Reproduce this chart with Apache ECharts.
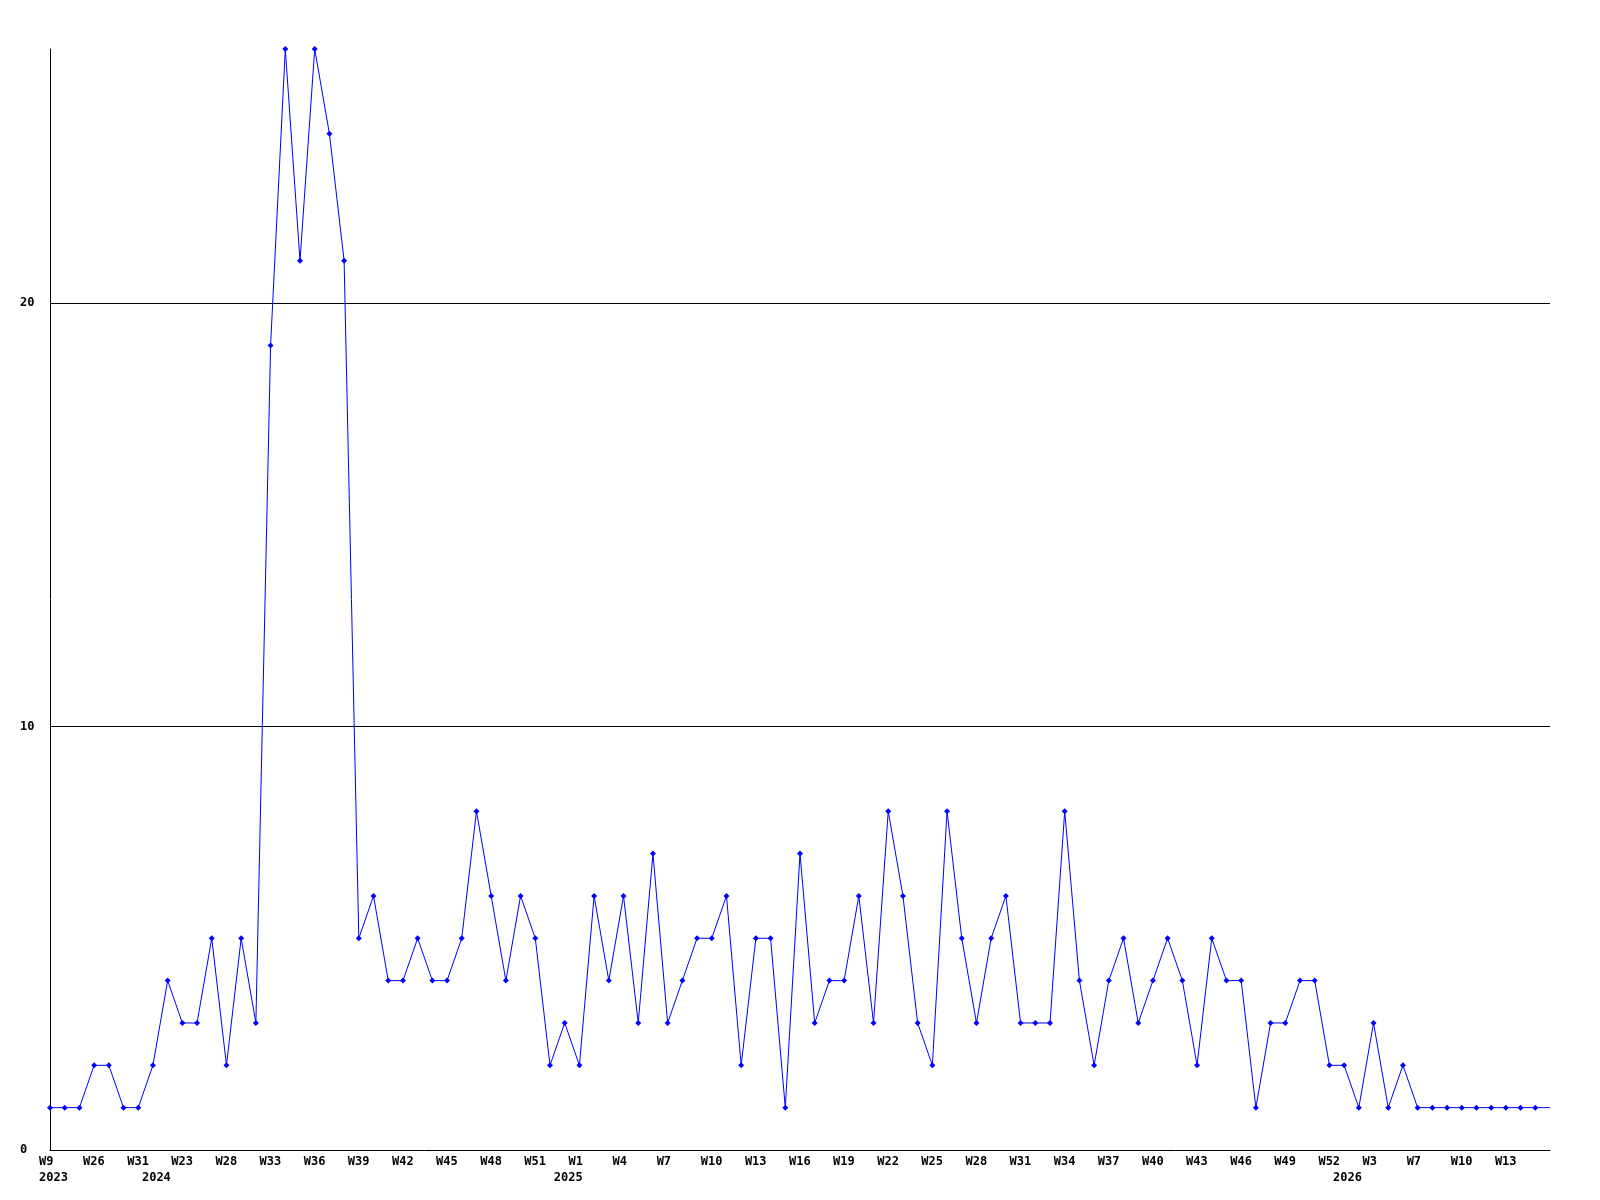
<!DOCTYPE html>
<html>
<head>
<meta charset="utf-8">
<script src="https://cdn.jsdelivr.net/npm/echarts@6/dist/echarts.min.js"></script>
<style>
  html, body { margin: 0; padding: 0; background: #fff; }
  #chart { width: 1600px; height: 1200px; }
</style>
</head>
<body>
<div id="chart"></div>
<script>
// week categories (one per point)
const weeks = [
  "W9", "W17", "W21", "W26", "W27", "W29", "W31", "W19", "W21", "W23",
  "W25", "W26", "W28", "W30", "W31", "W33", "W34", "W35", "W36", "W37",
  "W38", "W39", "W40", "W41", "W42", "W43", "W44", "W45", "W46", "W47",
  "W48", "W49", "W50", "W51", "W52", "W53", "W1", "W2", "W3", "W4",
  "W5", "W6", "W7", "W8", "W9", "W10", "W11", "W12", "W13", "W14",
  "W15", "W16", "W17", "W18", "W19", "W20", "W21", "W22", "W23", "W24",
  "W25", "W26", "W27", "W28", "W29", "W30", "W31", "W32", "W33", "W34",
  "W35", "W36", "W37", "W38", "W39", "W40", "W41", "W42", "W43", "W44",
  "W45", "W46", "W47", "W48", "W49", "W50", "W51", "W52", "W1", "W2",
  "W3", "W5", "W6", "W7", "W8", "W9", "W10", "W11", "W12", "W13",
  "W14", "W15", "W16"
];
// year labels: [category index, year]
const yearMarks = [[0, "2023"], [7, "2024"], [35, "2025"], [88, "2026"]];

// counts per week
const counts = [
  1, 1, 1, 2, 2, 1, 1, 2, 4, 3,
  3, 5, 2, 5, 3, 19, 26, 21, 26, 24,
  21, 5, 6, 4, 4, 5, 4, 4, 5, 8,
  6, 4, 6, 5, 2, 3, 2, 6, 4, 6,
  3, 7, 3, 4, 5, 5, 6, 2, 5, 5,
  1, 7, 3, 4, 4, 6, 3, 8, 6, 3,
  2, 8, 5, 3, 5, 6, 3, 3, 3, 8,
  4, 2, 4, 5, 3, 4, 5, 4, 2, 5,
  4, 4, 1, 3, 3, 4, 4, 2, 2, 1,
  3, 1, 2, 1, 1, 1, 1, 1, 1, 1,
  1, 1, 1
];

const yTicks = { min: 0, max: 26, interval: 10 };

const yearAt = {};
yearMarks.forEach(([i, y]) => { yearAt[i] = y; });

const font = '"DejaVu Sans Mono", monospace';
const lastIdx = weeks.length - 1;

let myChart = echarts.init(document.getElementById("chart"));
let option = {
  animation: false,
  backgroundColor: "#ffffff",
  grid: { left: 50, right: 50, top: 49, bottom: 50, containLabel: false },
  xAxis: {
    type: "category",
    data: weeks,
    boundaryGap: false,
    axisTick: { show: false },
    axisLine: { show: true, lineStyle: { color: "#000", width: 1 } },
    splitLine: { show: false },
    axisLabel: {
      // every third week gets a label, plus the first week of each year
      interval: (index) => (index % 3 === 0 && index < lastIdx) || yearAt[index] !== undefined,
      hideOverlap: false,
      margin: 4,
      align: "center",
      formatter: (value, index) => {
        let top = index % 3 === 0 ? value : " ";
        let s = "{a|" + top + "}";
        if (yearAt[index] !== undefined) s += "\n{a|" + yearAt[index] + "}";
        return s;
      },
      rich: {
        a: {
          width: 22,
          align: "left",
          fontFamily: font,
          fontWeight: "bold",
          fontSize: 12,
          lineHeight: 16,
          color: "#000",
        },
      },
    },
  },
  yAxis: {
    type: "value",
    min: yTicks.min,
    max: yTicks.max,
    interval: yTicks.interval,
    axisLine: { show: true, lineStyle: { color: "#000", width: 1 } },
    axisTick: { show: false },
    axisLabel: {
      showMaxLabel: false,
      align: "left",
      margin: 30,
      fontFamily: font,
      fontWeight: "bold",
      fontSize: 12,
      color: "#000",
    },
    splitLine: {
      show: true,
      showMinLine: false,
      showMaxLine: false,
      lineStyle: { color: "#000", width: 1 },
    },
  },
  series: [
    {
      type: "line",
      data: counts.map((v, i) => (i === lastIdx ? { value: v, symbol: "none" } : v)),
      symbol: "diamond",
      symbolSize: 6,
      showAllSymbol: true,
      clip: false,
      lineStyle: { color: "#0000ff", width: 1 },
      itemStyle: { color: "#0000ff" },
    },
  ],
};
myChart.setOption(option);
</script>
</body>
</html>
